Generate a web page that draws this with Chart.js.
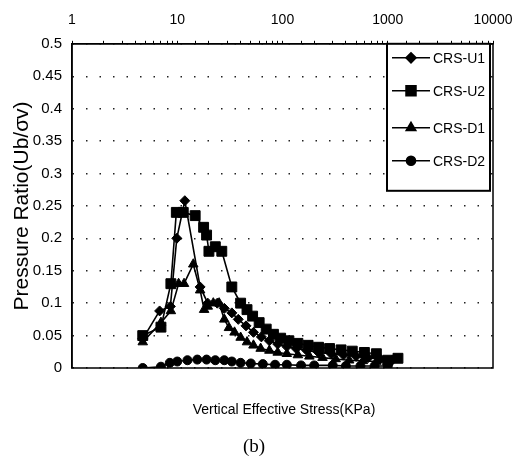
<!DOCTYPE html>
<html>
<head>
<meta charset="utf-8">
<script src="https://cdn.jsdelivr.net/npm/chart.js@4.4.1/dist/chart.umd.min.js"></script>
<style>
  html, body { margin: 0; padding: 0; background: #fff; }
  #wrap { width: 518px; height: 466px; }
</style>
</head>
<body>
<div id="wrap"><canvas id="line-chart" width="518" height="466"></canvas></div>
<script>
// tick labels
var xTicks = [1, 10, 100, 1000, 10000];
var yTicks = ['0', '0.05', '0.1', '0.15', '0.2', '0.25', '0.3', '0.35', '0.4', '0.45', '0.5'];

// CRS-U1 (diamond)
var u1X = [4.7, 6.8, 8.6, 9.9, 11.8, 16.5, 19.5, 24, 28, 33, 38, 45, 53, 63, 75, 90, 110, 135, 170, 220, 290, 380, 500, 650, 850, 1100];
var u1Y = [0.045, 0.088, 0.095, 0.2, 0.258, 0.125, 0.1, 0.1, 0.092, 0.085, 0.075, 0.065, 0.055, 0.048, 0.042, 0.037, 0.033, 0.03, 0.027, 0.024, 0.022, 0.02, 0.018, 0.016, 0.014, 0.012];

// CRS-U2 (square)
var u2X = [4.7, 7.0, 8.7, 9.8, 11.4, 14.8, 17.8, 19.0, 20.0, 23.0, 26.5, 33, 40, 46, 52, 60, 70, 82, 96, 115, 140, 175, 220, 280, 360, 460, 600, 780, 1000, 1250];
var u2Y = [0.05, 0.063, 0.13, 0.24, 0.24, 0.235, 0.217, 0.205, 0.18, 0.187, 0.18, 0.125, 0.1, 0.09, 0.08, 0.07, 0.06, 0.052, 0.046, 0.042, 0.038, 0.035, 0.032, 0.03, 0.028, 0.026, 0.024, 0.022, 0.012, 0.015];

// CRS-D1 (triangle)
var d1X = [4.7, 7.0, 8.7, 10.3, 11.6, 14.2, 16.5, 18.0, 19.5, 22, 25, 28, 31, 35, 40, 46, 53, 62, 75, 90, 110, 140, 180, 240, 320, 430, 580, 780, 1000];
var d1Y = [0.04, 0.07, 0.088, 0.13, 0.13, 0.16, 0.12, 0.09, 0.095, 0.1, 0.1, 0.075, 0.062, 0.055, 0.047, 0.04, 0.035, 0.03, 0.027, 0.024, 0.022, 0.02, 0.018, 0.016, 0.014, 0.012, 0.011, 0.01, 0.009];

// CRS-D2 (circle)
var d2X = [4.7, 7.0, 8.5, 10, 12.5, 15.5, 19, 23, 28, 33, 40, 50, 65, 85, 110, 150, 200, 300, 400, 550, 750, 1000];
var d2Y = [0.0, 0.002, 0.008, 0.01, 0.012, 0.013, 0.013, 0.012, 0.012, 0.01, 0.008, 0.007, 0.006, 0.005, 0.005, 0.004, 0.004, 0.004, 0.003, 0.003, 0.003, 0.003];

function pts(xs, ys) {
  return xs.map(function (x, i) { return { x: x, y: ys[i] }; });
}

function series(label, xs, ys, style, r) {
  return {
    label: label,
    data: pts(xs, ys),
    showLine: true,
    borderColor: '#000',
    backgroundColor: '#000',
    borderWidth: 1.6,
    pointStyle: style,
    pointRadius: r,
    pointBorderWidth: 1,
    pointBorderColor: '#000',
    pointBackgroundColor: '#000',
    tension: 0
  };
}

// box border, legend and bottom texts
var extras = {
  id: 'extras',
  afterDatasetsDraw: function (chart) {
    var ctx = chart.ctx, a = chart.chartArea;
    ctx.save();
    ctx.setLineDash([]);
    ctx.strokeStyle = '#000';
    ctx.lineWidth = 1.5;
    ctx.strokeRect(a.left, a.top, a.right - a.left, a.bottom - a.top);

    // legend box
    var lw = 103, lh = 147;
    var lx = a.right - lw - 3, ly = a.top;
    ctx.fillStyle = '#fff';
    ctx.fillRect(lx, ly, lw, lh);
    ctx.lineWidth = 2;
    ctx.strokeRect(lx, ly, lw, lh);
    var rows = [14, 47, 84, 117];
    ctx.font = '14px "Liberation Sans", Arial';
    ctx.textBaseline = 'middle';
    chart.data.datasets.forEach(function (ds, i) {
      var y = ly + rows[i];
      ctx.strokeStyle = '#000';
      ctx.lineWidth = 1.6;
      ctx.beginPath();
      ctx.moveTo(lx + 5, y);
      ctx.lineTo(lx + 43, y);
      ctx.stroke();
      ctx.fillStyle = '#000';
      Chart.helpers.drawPoint(ctx, { pointStyle: ds.pointStyle, radius: ds.pointRadius, rotation: 0, borderWidth: 1 }, lx + 24, y);
      ctx.fill();
      ctx.textAlign = 'left';
      ctx.fillText(ds.label, lx + 46, y + 1);
    });

    // x axis title and caption under the plot
    ctx.fillStyle = '#000';
    ctx.textAlign = 'center';
    ctx.textBaseline = 'middle';
    ctx.font = '14px "Liberation Sans", Arial';
    ctx.fillText('Vertical Effective Stress(KPa)', 284, 410);
    ctx.font = '19px "Liberation Serif", serif';
    ctx.fillText('(b)', 254, 447);
    ctx.restore();
  }
};

var myChart = new Chart(document.getElementById('line-chart'), {
  type: 'scatter',
  data: {
    datasets: [
      series('CRS-U1', u1X, u1Y, 'rectRot', 5),
      series('CRS-U2', u2X, u2Y, 'rect', 7),
      series('CRS-D1', d1X, d1Y, 'triangle', 5.5),
      series('CRS-D2', d2X, d2Y, 'circle', 4.5)
    ]
  },
  options: {
    responsive: false,
    animation: false,
    layout: { padding: { top: 0, left: 8, right: 25, bottom: 98 } },
    plugins: {
      legend: { display: false },
      tooltip: { enabled: false }
    },
    scales: {
      x: {
        type: 'logarithmic',
        position: 'top',
        min: 1,
        max: 10000,
        border: { display: true, color: '#000', width: 1.5 },
        grid: { drawOnChartArea: false, drawTicks: true, tickLength: 3, color: '#000' },
        ticks: {
          color: '#000',
          font: { family: 'Liberation Sans', size: 14 },
          padding: 12,
          maxRotation: 0,
          autoSkip: false,
          callback: function (v) { return xTicks.indexOf(v) >= 0 ? String(v) : ''; }
        },
        afterFit: function (s) { s.paddingLeft = 0; s.paddingRight = 0; }
      },
      y: {
        min: 0,
        max: 0.5,
        border: { display: true, color: '#000', width: 1.5, dash: [1.5, 12] },
        grid: { drawTicks: false, color: '#222', lineWidth: 1.4 },
        ticks: {
          stepSize: 0.05,
          color: '#000',
          padding: 10,
          font: { family: 'Liberation Sans', size: 15 },
          callback: function (v, i) { return yTicks[i]; }
        },
        title: {
          display: true,
          text: 'Pressure Ratio(Ub/σv)',
          color: '#000',
          font: { family: 'Liberation Sans', size: 21 },
          padding: { top: 2, bottom: 0 }
        },
        afterFit: function (s) { s.width = 64; s.paddingTop = 0; s.paddingBottom = 0; }
      }
    }
  },
  plugins: [extras]
});
</script>
</body>
</html>
